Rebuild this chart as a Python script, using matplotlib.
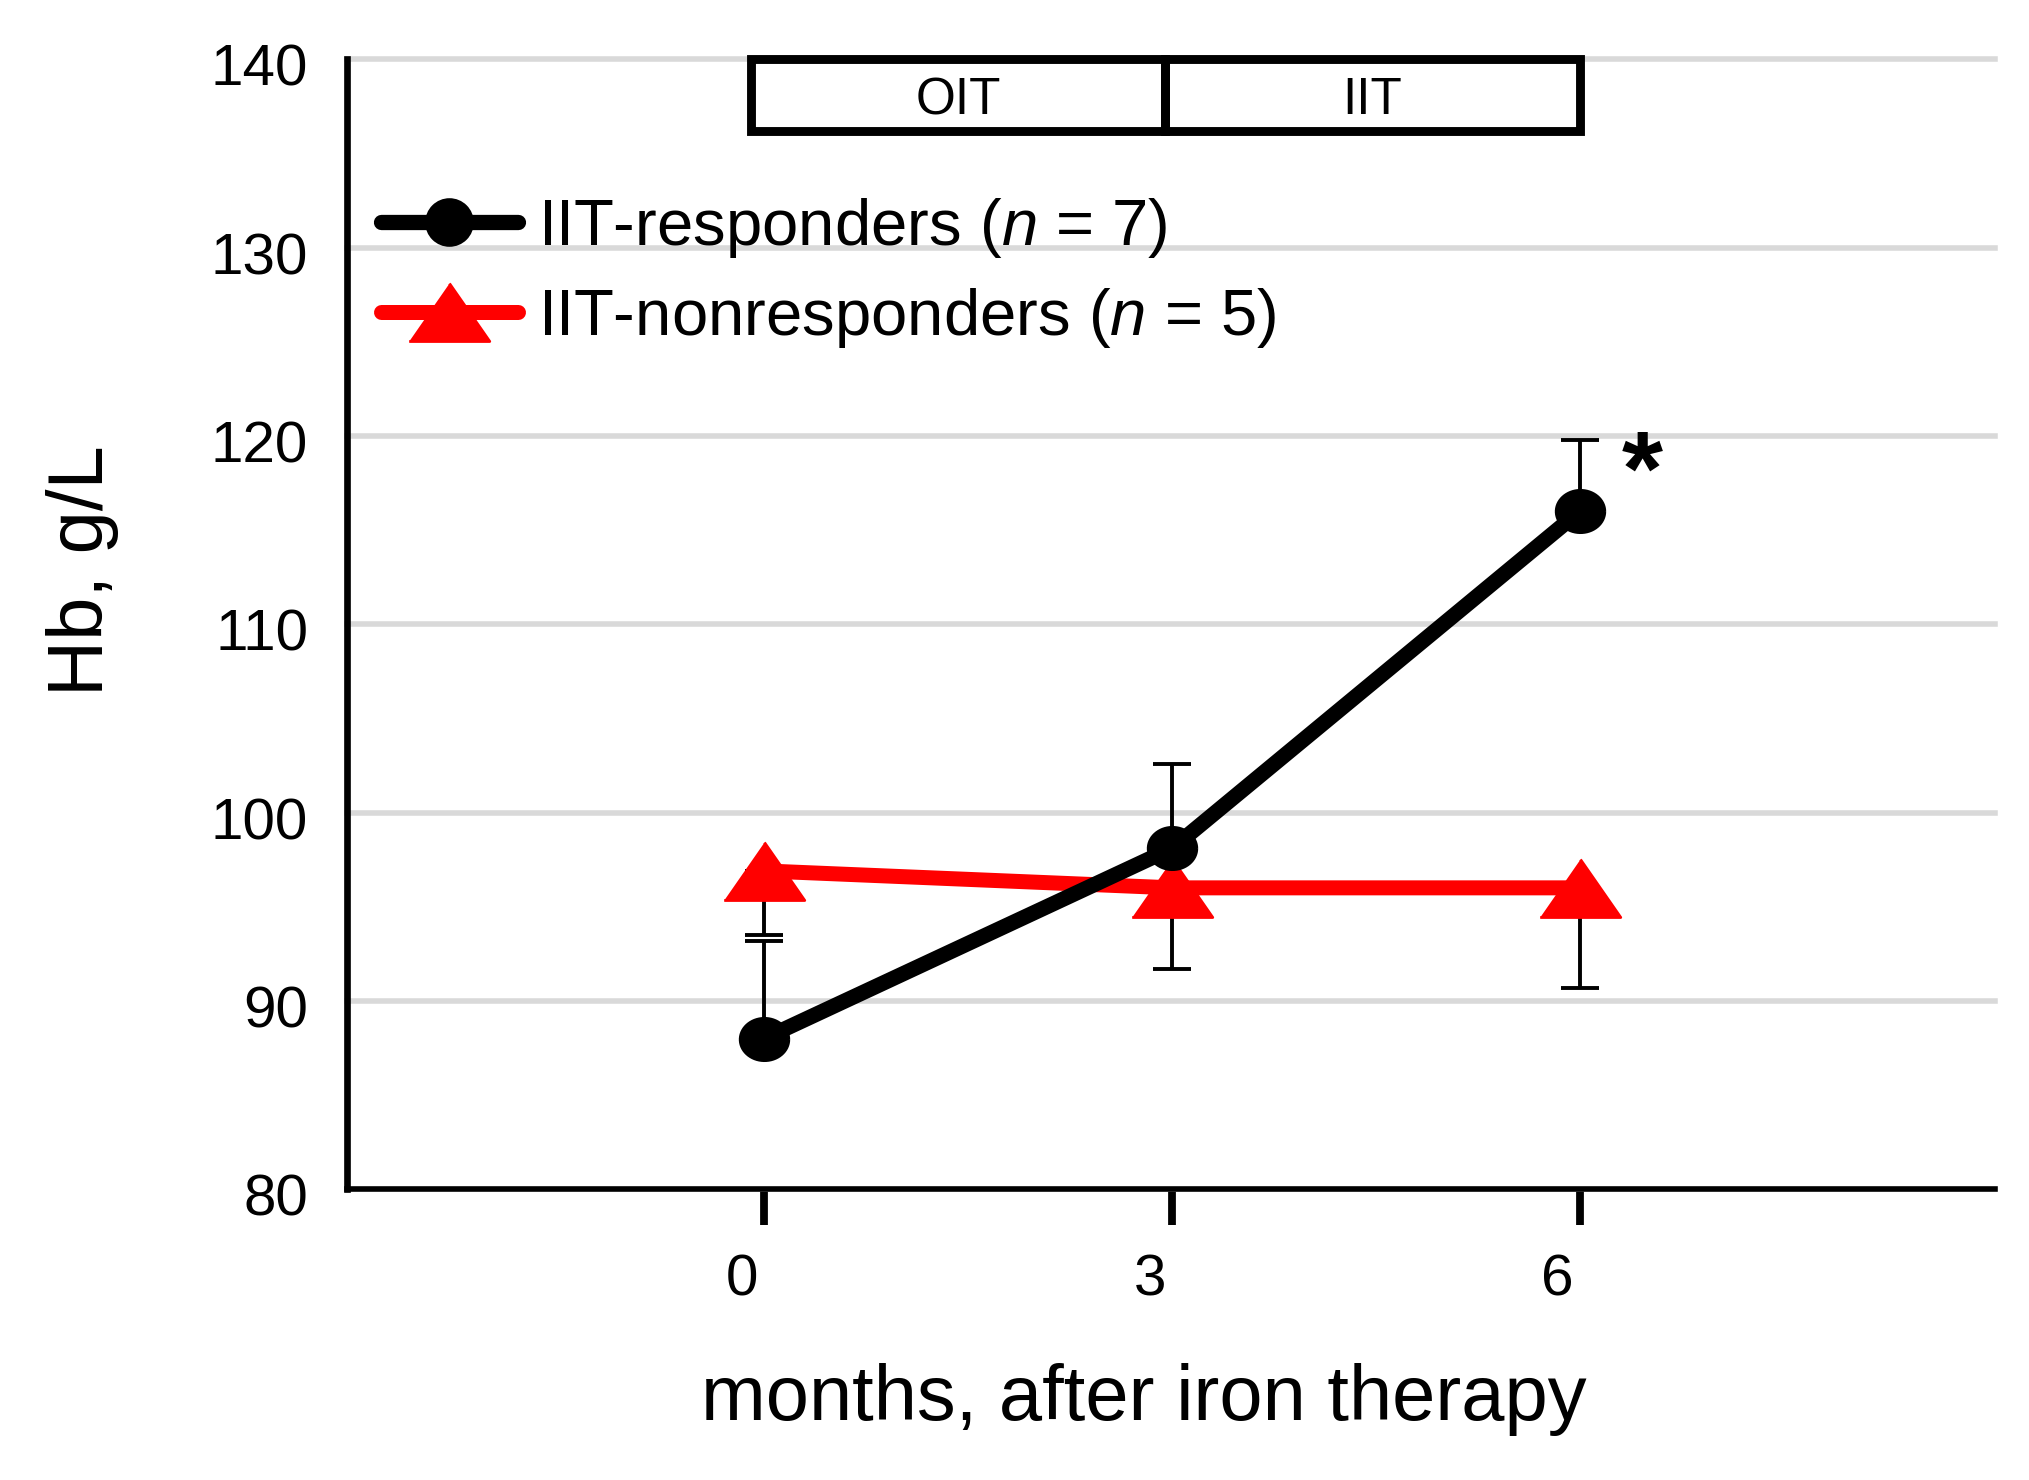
import matplotlib
matplotlib.use("Agg")
import numpy as np
import matplotlib.pyplot as plt
from matplotlib.patches import Rectangle
from matplotlib.lines import Line2D
from matplotlib.transforms import ScaledTranslation

plt.rcParams['font.family'] = 'Liberation Sans'
plt.rcParams['mathtext.fontset'] = 'custom'
plt.rcParams['mathtext.rm'] = 'Liberation Sans'
plt.rcParams['mathtext.it'] = 'Liberation Sans:italic'

# Data
months = [0, 3, 6]
resp_mean = [88.0, 98.1, 116.0]
resp_err_up = [5.2, 4.5, 3.8]
nonresp_mean = [96.9, 96.0, 96.0]
nonresp_err_low = [3.4, 4.3, 5.3]
labels = [r"IIT-responders ($\it{n}$ = 7)", r"IIT-nonresponders ($\it{n}$ = 5)"]
phases = ["OIT", "IIT"]
phase_edges = [-0.1, 2.95, 6.0]

# marker shapes
tri = [(-1, -0.72), (1, -0.72), (0, 0.72)]
t = np.linspace(0, 2 * np.pi, 64)
ellipse = list(zip(np.cos(t), 0.87 * np.sin(t)))

fig = plt.figure(figsize=(10.145, 7.4), dpi=200)
ax = fig.add_axes([0.171, 0.1965, 0.812, 0.7635])

# error bars under the markers (one-sided)
ax.errorbar(months, resp_mean, yerr=[[0, 0, 0], resp_err_up], fmt='none',
            ecolor='black', elinewidth=1.4, capsize=7, capthick=1.4, zorder=2)
ax.errorbar(months, nonresp_mean, yerr=[nonresp_err_low, [0, 0, 0]], fmt='none',
            ecolor='black', elinewidth=1.4, capsize=7, capthick=1.4, zorder=2)

# red series first so black line sits on top
ax.plot(months, nonresp_mean, color='red', lw=5.4, marker=tri, ms=29,
        solid_capstyle='round', zorder=3)
ax.plot(months, resp_mean, color='black', lw=5.5, marker=ellipse, ms=17.5,
        solid_capstyle='round', zorder=4)

ax.set_xlim(-3.07, 9.05)
ax.set_ylim(80, 140)
ax.set_yticks(range(80, 141, 10))
ax.set_xticks(months)

ax.yaxis.grid(True, color='#d9d9d9', lw=2)
ax.set_axisbelow(True)
for gl in ax.get_ygridlines():
    gl.set_clip_on(False)

for s in ['top', 'right']:
    ax.spines[s].set_visible(False)
ax.spines['left'].set_linewidth(2.4)
ax.spines['bottom'].set_linewidth(2.0)

ax.tick_params(axis='y', length=0, pad=14, labelsize=21)
ax.tick_params(axis='x', direction='out', length=13, width=2.8, pad=10, labelsize=21)
for lbl in ax.get_xticklabels():
    lbl.set_transform(lbl.get_transform() + ScaledTranslation(-8 / 72, 0, fig.dpi_scale_trans))
for lbl in ax.get_yticklabels():
    lbl.set_transform(lbl.get_transform() + ScaledTranslation(0, -2 / 72, fig.dpi_scale_trans))

ax.set_xlabel("months, after iron therapy", fontsize=28, labelpad=20)
ax.xaxis.label.set_x(0.4835)
ax.set_ylabel("Hb, g/L", fontsize=28, labelpad=33)
ax.yaxis.label.set_y(0.5475)

# treatment phase boxes
for i, name in enumerate(phases):
    x0, x1 = phase_edges[i], phase_edges[i + 1]
    ax.add_patch(Rectangle((x0, 136.2), x1 - x0, 3.8, fill=False, lw=3.2,
                           ec='black', clip_on=False, zorder=5))
    ax.text((x0 + x1) / 2, 137.8, name, fontsize=18.5, ha='center', va='center')

ax.text(6.46, 117.8, "*", fontsize=38, fontweight='bold', ha='center', va='center')

handles = [
    Line2D([], [], color='black', lw=5.5, marker='o', ms=16.5, solid_capstyle='round'),
    Line2D([], [], color='red', lw=5.4, marker=tri, ms=29, solid_capstyle='round'),
]
ax.legend(handles, labels, loc='upper left', bbox_to_anchor=(0.0, 0.909),
          frameon=False, fontsize=23.5, handlelength=2.1, handletextpad=0.3,
          labelspacing=0.4, borderaxespad=0.12)

fig.savefig("out.png", dpi=200)
